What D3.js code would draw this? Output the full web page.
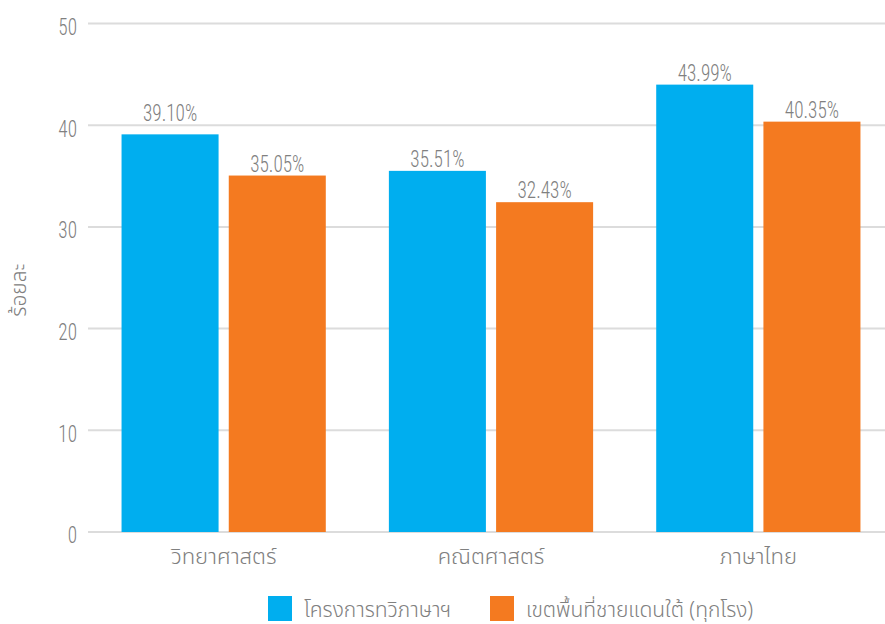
<!DOCTYPE html>
<html><head><meta charset="utf-8">
<script src="https://cdn.jsdelivr.net/npm/d3@7"></script>
<style>
body{margin:0;background:#fff;}
text{font-family:"Roboto Condensed","Roboto","Noto Sans",sans-serif;fill:#808080;font-weight:300;}
.th{font-family:"Noto Sans","Noto Sans Thai","Loma","DejaVu Sans",sans-serif;font-weight:300;}
</style></head><body>
<svg id="c" width="885" height="624"></svg>
<script>
const categories = ["วิทยาศาสตร์","คณิตศาสตร์","ภาษาไทย"];
const seriesNames = ["โครงการทวิภาษาฯ","เขตพื้นที่ชายแดนใต้ (ทุกโรง)"];
const bilingual = [39.10, 35.51, 43.99];
const southern = [35.05, 32.43, 40.35];
const yTicks = [0,10,20,30,40,50];
const colors = ["#00AEEF","#F47A20"];

const svg = d3.select("#c");
const y = d3.scaleLinear().domain([0,50]).range([532,23.5]);
const x0 = d3.scaleBand().domain(categories).range([90,892]).paddingInner(0.236).paddingOuter(0.118);
const x1 = d3.scaleBand().domain([0,1]).range([0,x0.bandwidth()]).paddingInner(0.095);
const condense = 0.8;
const fs = 24, capH = 17;

// gridlines
svg.append("g").selectAll("line").data(yTicks).join("line")
  .attr("x1",88).attr("x2",885).attr("y1",d=>y(d)).attr("y2",d=>y(d))
  .attr("stroke","#dcdcdc").attr("stroke-width",2);

const yAxis = d3.axisLeft(y).tickValues(yTicks).tickSize(0).tickPadding(0);
const ga = svg.append("g").attr("transform","translate(77,0)").call(yAxis);
ga.select(".domain").remove();
ga.selectAll(".tick text").attr("font-size",fs).attr("fill","#7c7c7c")
  .style("font-family","'Roboto Condensed',Roboto,sans-serif").style("font-weight",300)
  .attr("x",0).attr("dy","0.45em")
  .attr("transform",`scale(${condense},1)`);

const xAxis = d3.axisBottom(x0).tickSize(0).tickPadding(0);
const gx = svg.append("g").attr("transform","translate(0,547)").call(xAxis);
gx.select(".domain").remove();
gx.selectAll("text").attr("class","th").attr("font-size",22).attr("fill","#808080").attr("dy","0.75em");

const data = categories.map((c,i)=>({c, vals:[bilingual[i], southern[i]]}));
const groups = svg.append("g").selectAll("g").data(data).join("g")
  .attr("transform",d=>`translate(${x0(d.c)},0)`);
groups.selectAll("rect").data(d=>d.vals.map((v,k)=>({v,k}))).join("rect")
  .attr("x",d=>x1(d.k)).attr("width",x1.bandwidth())
  .attr("y",d=>y(d.v)).attr("height",d=>y(0)-y(d.v))
  .attr("fill",d=>colors[d.k]);

// label baseline: 4px above bar; lifted above a gridline if it would cross one
function labelBase(v){
  let b = y(v) - 4;
  for (const t of yTicks){
    const gy = y(t);
    if (gy < b + 1 && gy > b - capH - 1) b = gy - 4;
  }
  return b;
}
groups.selectAll("g.v").data(d=>d.vals.map((v,k)=>({v,k}))).join("g")
  .attr("class","v")
  .attr("transform",d=>`translate(${x1(d.k)+x1.bandwidth()/2},${labelBase(d.v)}) scale(${condense},1)`)
  .append("text")
  .attr("text-anchor","middle").attr("font-size",fs).attr("fill","#7c7c7c")
  .text(d=>d.v.toFixed(2)+"%");

// y label
svg.append("text").attr("class","th")
  .attr("transform","translate(26,290) rotate(-90)")
  .attr("text-anchor","middle").attr("font-size",21).text("ร้อยละ");

// legend
const legX = [268, 490];
const lg = svg.append("g").selectAll("g").data(seriesNames).join("g")
  .attr("transform",(d,i)=>`translate(${legX[i]},596)`);
lg.append("rect").attr("width",24).attr("height",25).attr("fill",(d,i)=>colors[i]);
lg.append("text").attr("class","th").attr("x",36).attr("y",13).attr("dy","0.36em")
  .attr("font-size",21).text(d=>d);
</script>
</body></html>
